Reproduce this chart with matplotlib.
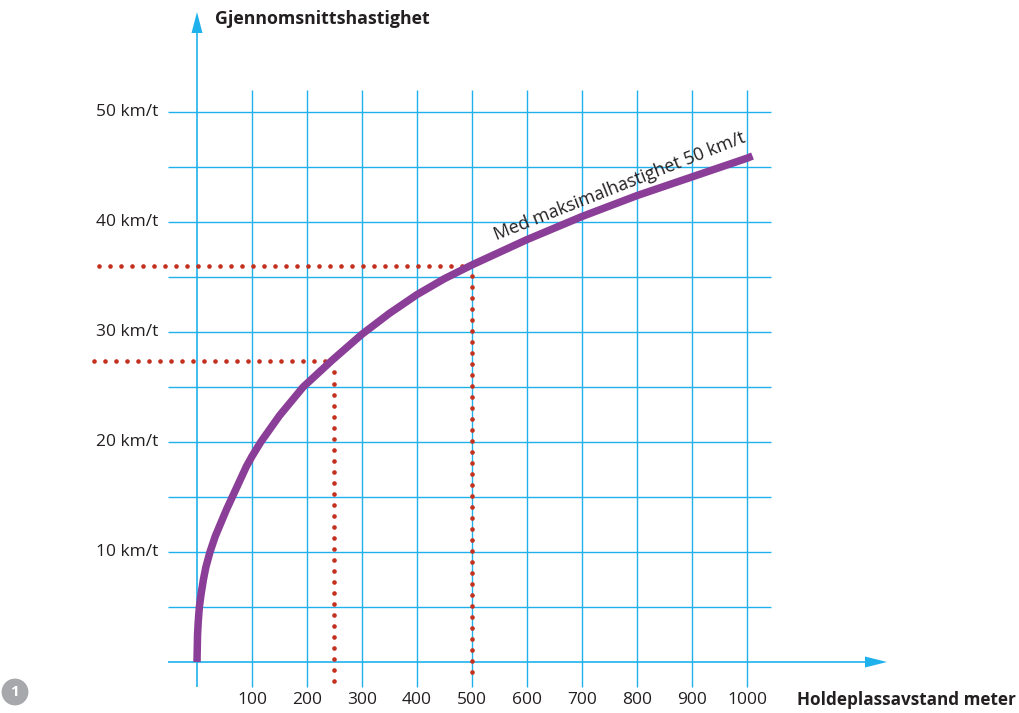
import matplotlib
matplotlib.use("Agg")
import matplotlib.pyplot as plt
import numpy as np

# ---- data ----
distance = [0, 1, 2.3, 4.3, 7.5, 11.5, 16, 23.6, 33, 43, 54, 66, 90, 100, 116, 150, 193,
            245, 300, 350, 400, 450, 500, 600, 700, 800, 900, 1000, 1010]
speed = [0, 2.5, 3.7, 5, 6.2, 7.45, 8.6, 10, 11.4, 12.6, 13.9, 15.2, 17.8, 18.7, 20, 22.4, 25,
         27.4, 29.8, 31.7, 33.4, 34.85, 36.1, 38.4, 40.5, 42.4, 44.1, 45.8, 46.0]
x_ticks = [100, 200, 300, 400, 500, 600, 700, 800, 900, 1000]
y_ticks = [10, 20, 30, 40, 50]
y_tick_labels = ["10 km/t", "20 km/t", "30 km/t", "40 km/t", "50 km/t"]
x_grid = list(range(0, 1001, 100))
y_grid = list(range(0, 51, 5))
ref_x = [250, 500]
ref_y = [27.36, 36.0]
curve_label = "Med maksimalhastighet 50 km/t"
x_label = "Holdeplassavstand meter"
y_label = "Gjennomsnittshastighet"

# ---- styling ----
GRID = "#1fb1ec"
PURPLE = "#8b3e97"
RED = "#c4301e"
TXT = "#231f20"
plt.rcParams['font.family'] = ['Open Sans', 'DejaVu Sans']

W, H = 1020, 713
fig = plt.figure(figsize=(W / 100, H / 100), dpi=100)
ax = fig.add_axes([0, 0, 1, 1])
# pixel mapping: x_px = 197 + 0.55*x ; y_px = 662 - 11*y
x0px, sx = 197.0, 0.55
y0px, sy = 662.0, 11.0
ax.set_xlim((0 - x0px) / sx, (W - x0px) / sx)
ax.set_ylim((y0px - H) / sy, y0px / sy)
ax.axis("off")

def px_x(p):
    return (p - x0px) / sx

def px_y(p):
    return (y0px - p) / sy

# grid
gx_lo, gx_hi = px_x(168), px_x(771)
gy_lo, gy_hi = px_y(687), px_y(90)
ax.vlines(x_grid[1:], gy_lo, gy_hi, color=GRID, lw=1.0, zorder=1)
ax.hlines(y_grid[1:], gx_lo, gx_hi, color=GRID, lw=1.0, zorder=1)

# axes with arrows
tip_y, base_y = px_y(12), px_y(33)
ax.vlines(0, gy_lo, base_y + 0.1, color=GRID, lw=1.2, zorder=2)
hw = 5.5 / sx
ax.fill([-hw, hw, 0], [base_y, base_y, tip_y], color=GRID, lw=0, zorder=2)
tip_x, base_x = px_x(887), px_x(865)
ax.hlines(0, gx_lo, base_x + 1, color=GRID, lw=1.2, zorder=2)
hh = 5.5 / sy
ax.fill([base_x, base_x, tip_x], [-hh, hh, 0], color=GRID, lw=0, zorder=2)

# reference dotted lines (dots every 11 px)
h_starts = [px_x(94), px_x(99.3)]
v_tops = [px_y(372.5), px_y(276)]
bottom = px_y(681)
dot_ms = 3.3
for rx, ry, hs, vt in zip(ref_x, ref_y, h_starts, v_tops):
    n_h = int(np.floor((rx - 6 / sx - hs) / (11 / sx)))
    hx = hs + np.arange(n_h + 1) * (11 / sx)
    hx = hx[hx < rx - 8 / sx]
    ax.plot(hx, np.full_like(hx, ry), "o", color=RED, ms=dot_ms, mew=0, zorder=3)
    vy = np.arange(vt, bottom - 0.01, -1.0)
    ax.plot(np.full_like(vy, rx), vy, "o", color=RED, ms=dot_ms, mew=0, zorder=3)

# curve
ax.plot(distance, speed, color=PURPLE, lw=5.4, solid_capstyle="butt",
        solid_joinstyle="round", zorder=4)

# curve label
ax.text(px_x(620), px_y(186), curve_label, rotation=21.5, rotation_mode="anchor",
        ha="center", va="center", fontsize=13, color=TXT, zorder=5)

# tick labels
for x in x_ticks:
    ax.text(x, px_y(700), str(x), ha="center", va="center", fontsize=12.5, color=TXT)
for y, lab in zip(y_ticks, y_tick_labels):
    ax.text(px_x(158), y, lab, ha="right", va="center", fontsize=12.5, color=TXT)

# axis titles
ax.text(px_x(797), px_y(700), x_label, ha="left", va="center", fontsize=12.3,
        fontweight="bold", color=TXT)
ax.text(px_x(215), px_y(19), y_label, ha="left", va="center", fontsize=12.8,
        fontweight="bold", color=TXT)

# figure number badge
ax.text(px_x(15), px_y(692), "1", ha="center", va="center", fontsize=11,
        fontweight="bold", color="white",
        bbox=dict(boxstyle="circle,pad=0.42", fc="#a6a8ab", ec="none"))

fig.savefig("out.png", dpi=100)
